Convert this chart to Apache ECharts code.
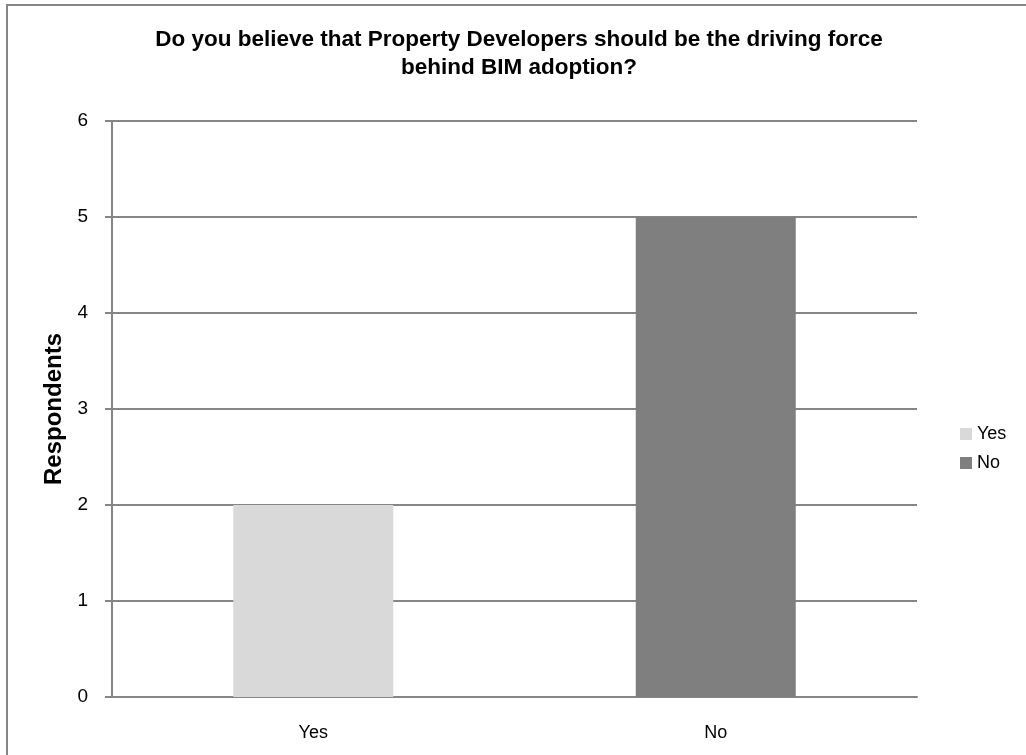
<!DOCTYPE html>
<html>
<head>
<meta charset="UTF-8">
<title>BIM adoption</title>
<script src="https://cdn.jsdelivr.net/npm/echarts@6/dist/echarts.min.js"></script>
<style>
body { margin: 0; padding: 0; background: #fff; }
#frame {
    position: absolute; left: 6px; top: 4px; width: 1040px; height: 780px;
    border-top: 2px solid #868686; border-left: 2px solid #868686;
}
#main { position: absolute; left: 0; top: 0; width: 1026px; height: 755px; }
</style>
</head>
<body>
<div id="frame"></div>
<div id="main"></div>
<script>
var categories = ['Yes', 'No'];
var yesValues = [2, null];
var noValues = [null, 5];
var yTicks = [0, 6, 1]; // min, max, interval

var chart = echarts.init(document.getElementById('main'));
var font = '"Liberation Sans", "Open Sans", sans-serif';

var option = {
    animation: false,
    title: {
        text: 'Do you believe that Property Developers should be the driving force\nbehind BIM adoption?',
        left: 514, top: 21, textAlign: 'center',
        textStyle: { fontFamily: font, fontSize: 22.5, fontWeight: 'bold', color: '#000', lineHeight: 28 }
    },
    legend: {
        orient: 'vertical', left: 955, top: 420, itemWidth: 12, itemHeight: 12, itemGap: 11,
        icon: 'rect',
        textStyle: { fontFamily: font, fontSize: 18, color: '#000' },
        data: ['Yes', 'No']
    },
    grid: { left: 112, right: 109, top: 121, bottom: 58 },
    xAxis: {
        type: 'category', data: categories,
        axisLine: { lineStyle: { color: '#868686', width: 2 } },
        axisTick: { show: false },
        axisLabel: { fontFamily: font, fontSize: 18, color: '#000', margin: 27 }
    },
    yAxis: {
        type: 'value', min: yTicks[0], max: yTicks[1], interval: yTicks[2],
        name: 'Respondents', nameLocation: 'middle', nameGap: 44, nameRotate: 90,
        nameTextStyle: { fontFamily: font, fontSize: 24, fontWeight: 'bold', color: '#000' },
        axisLine: { show: true, lineStyle: { color: '#868686', width: 2 } },
        axisTick: { show: true, length: 7, lineStyle: { color: '#868686', width: 2 } },
        axisLabel: { fontFamily: font, fontSize: 19, color: '#000', margin: 24 },
        splitLine: { lineStyle: { color: '#868686', width: 2 } }
    },
    series: [
        { name: 'Yes', type: 'bar', stack: 'a', barWidth: 160, data: yesValues, itemStyle: { color: '#d9d9d9' } },
        { name: 'No', type: 'bar', stack: 'a', barWidth: 160, data: noValues, itemStyle: { color: '#7f7f7f' } }
    ]
};
chart.setOption(option);
</script>
</body>
</html>
